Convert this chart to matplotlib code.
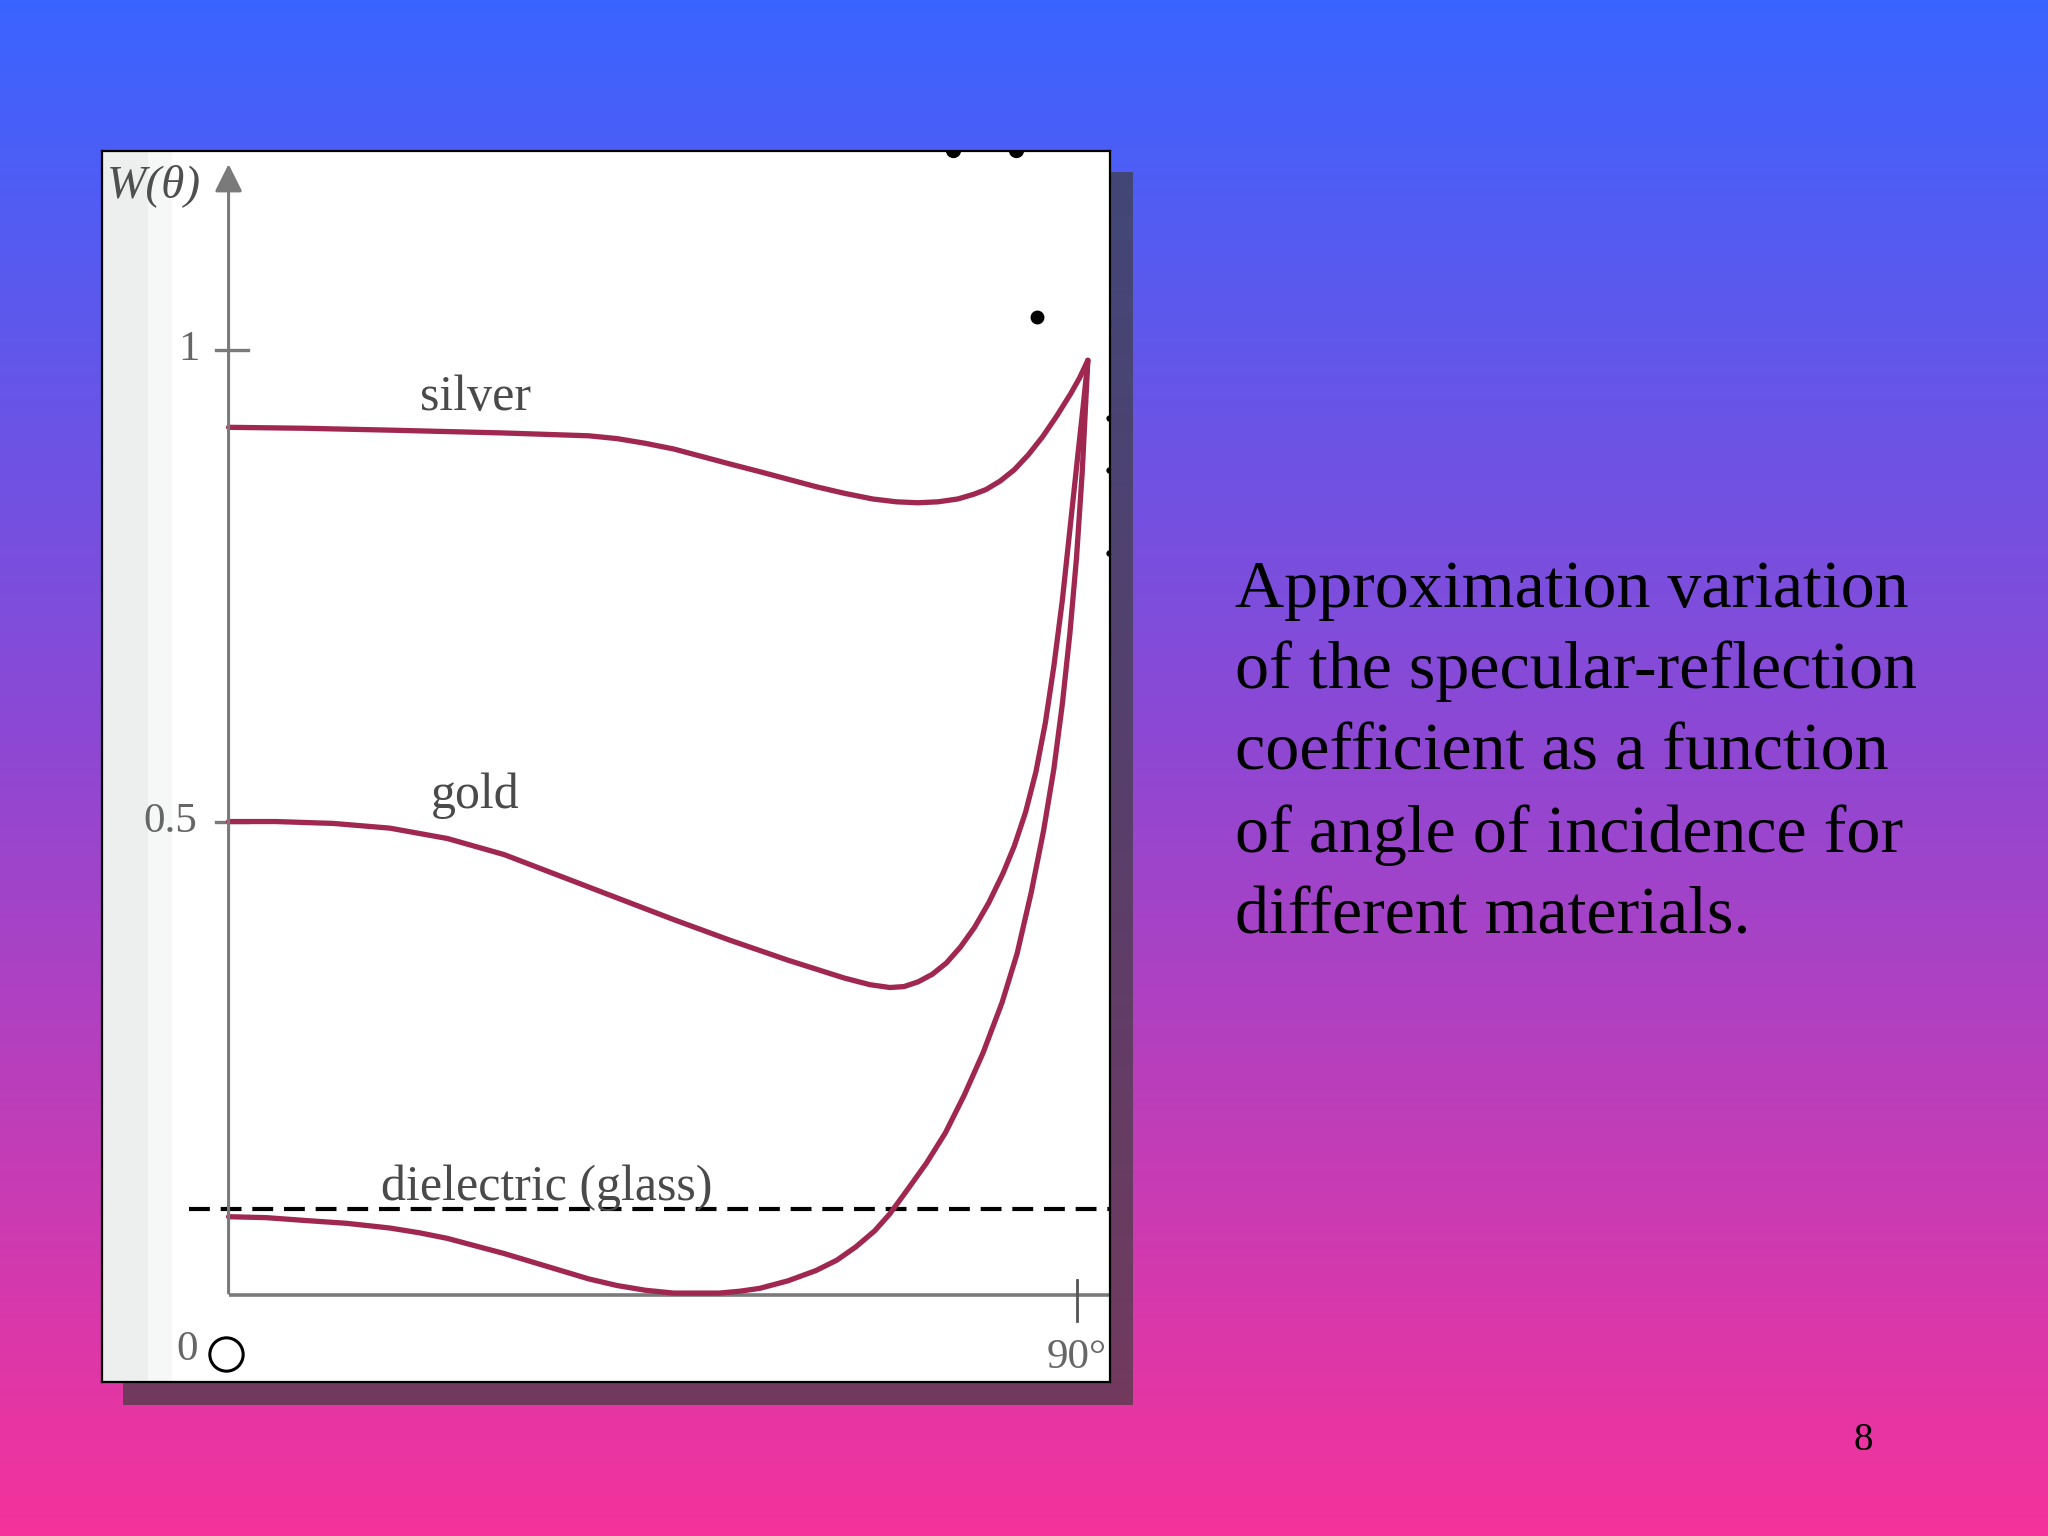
import numpy as np
import matplotlib
matplotlib.use("Agg")
from matplotlib import pyplot as plt
from matplotlib.colors import LinearSegmentedColormap
from matplotlib.patches import Rectangle

plt.rcParams['font.family'] = ['Liberation Serif', 'DejaVu Serif']

# angle of incidence (deg) and W(theta)
silver_x = [0, 8.0, 17.1, 29.2, 38.2, 41.2, 44.2, 47.2, 50.2, 53.2, 56.3, 59.3, 62.3, 65.3, 68.3,
            70.8, 73.1, 75.2, 77.3, 79.0, 80.3, 81.8, 83.3, 84.8, 86.3, 87.8, 89.3, 90.2, 91.1]
silver_y = [0.918, 0.917, 0.915, 0.912, 0.909, 0.906, 0.901, 0.895, 0.887, 0.879, 0.871, 0.863,
            0.855, 0.848, 0.842, 0.839, 0.838, 0.839, 0.842, 0.847, 0.852, 0.861, 0.873, 0.889,
            0.908, 0.930, 0.954, 0.970, 0.989]

gold_x = [0, 5.0, 11.1, 17.1, 23.2, 29.2, 35.2, 41.2, 47.2, 53.2, 59.3, 65.3, 68.0, 70.1, 71.6,
          73.1, 74.6, 76.1, 77.6, 79.1, 80.6, 82.1, 83.3, 84.5, 85.6, 86.6, 87.5, 88.4, 89.2,
          90.0, 90.6, 91.1]
gold_y = [0.500, 0.500, 0.498, 0.493, 0.482, 0.465, 0.442, 0.419, 0.396, 0.374, 0.353, 0.334,
          0.327, 0.324, 0.325, 0.330, 0.338, 0.350, 0.367, 0.388, 0.414, 0.445, 0.474, 0.510,
          0.553, 0.605, 0.665, 0.735, 0.810, 0.885, 0.940, 0.989]

glass_x = [0, 4.0, 8.1, 12.5, 17.1, 20.2, 23.2, 26.2, 29.2, 32.2, 35.2, 38.2, 41.2, 44.2, 47.2,
           49.6, 52.0, 54.2, 56.3, 59.3, 62.3, 64.5, 66.5, 68.5, 70.1, 72.0, 74.0, 76.0, 78.0,
           80.0, 82.0, 83.6, 85.1, 86.4, 87.5, 88.4, 89.2, 89.9, 90.5, 91.1]
glass_y = [0.081, 0.080, 0.077, 0.074, 0.069, 0.064, 0.058, 0.050, 0.042, 0.033, 0.024, 0.015,
           0.008, 0.003, 0.0, 0.0, 0.0, 0.002, 0.005, 0.013, 0.024, 0.035, 0.049, 0.066, 0.084,
           0.110, 0.138, 0.170, 0.210, 0.255, 0.308, 0.360, 0.425, 0.490, 0.556, 0.625, 0.700,
           0.780, 0.870, 0.989]

glass_level = 0.089
y_ticks = [1, 0.5]
y_tick_labels = ['1', '0.5']

caption = ["Approximation variation",
           "of the specular-reflection",
           "coefficient as a function",
           "of angle of incidence for",
           "different materials."]
page_no = "8"

fig = plt.figure(figsize=(20.48, 15.36), dpi=100)

# slide background gradient
bg = fig.add_axes([0, 0, 1, 1])
cmap = LinearSegmentedColormap.from_list('slide', ['#3a64ff', '#9147d2', '#f5329b'])
bg.imshow(np.linspace(0, 1, 256).reshape(-1, 1), aspect='auto', cmap=cmap,
          extent=[0, 1, 0, 1])
bg.set_xlim(0, 1)
bg.set_ylim(0, 1)
bg.axis('off')
# drop shadow of the picture
bg.add_patch(Rectangle((0.0600, 0.0851), 0.4930, 0.8027, facecolor='#3c3c3c',
                       alpha=0.68, edgecolor='none', transform=bg.transAxes))

# the scanned graph
ax = fig.add_axes([0.04975, 0.1003, 0.4923, 0.8011])
ax.set_facecolor('white')
ax.set_xlim(-13.43, 93.46)
ax.set_ylim(-0.0942, 1.2105)
ax.set_xticks([])
ax.set_yticks([])
for s in ax.spines.values():
    s.set_color('black')
    s.set_linewidth(1.6)
ax.axvspan(-13.43, -8.5, color='#edefef', lw=0)
ax.axvspan(-8.5, -6.0, color='#f6f7f7', lw=0)

axis_col = '#7a7a7a'
ax.plot([0, 93.46], [-0.002, -0.002], color=axis_col, lw=2.6, solid_capstyle='butt')
ax.annotate('', xy=(0, 1.2), xytext=(0, -0.003),
            arrowprops=dict(arrowstyle='-|>', color=axis_col, lw=2.2, mutation_scale=42))
for t in y_ticks:
    ax.plot([-1.38, 2.08], [t, t], color=axis_col, lw=2.4)
ax.plot([89.9, 89.9], [0.014, -0.030], color='#555555', lw=2.0)

tick_col = '#666666'
ax.text(-4.15, 1.0, y_tick_labels[0], fontsize=31, color=tick_col, ha='center', va='center')
ax.text(-6.2, 0.5, y_tick_labels[1], fontsize=31, color=tick_col, ha='center', va='center')
ax.text(-4.4, -0.06, '0', fontsize=31, color=tick_col, ha='center', va='center')
ax.text(89.9, -0.069, '90°', fontsize=31, color=tick_col, ha='center', va='center')
ax.text(-7.9, 1.174, 'W(θ)', fontsize=34, color='#4f4f4f', style='italic',
        ha='center', va='center')
ax.plot([-0.28], [-0.065], marker='o', ms=24, mfc='none', mec='black', mew=2.2)

ax.plot([-4.15, 93.46], [glass_level, glass_level], color='black', lw=3.0,
        dashes=(5.0, 2.6))

curve_col = '#a02850'
for xs, ys in [(silver_x, silver_y), (gold_x, gold_y), (glass_x, glass_y)]:
    ax.plot(xs, ys, color=curve_col, lw=3.8, solid_joinstyle='round',
            solid_capstyle='round')

lab_col = '#4a4a4a'
ax.text(26.2, 0.936, 'silver', fontsize=36, color=lab_col, ha='center', va='baseline')
ax.text(26.2, 0.514, 'gold', fontsize=36, color=lab_col, ha='center', va='baseline')
ax.text(33.7, 0.0986, 'dielectric (glass)', fontsize=36, color=lab_col,
        ha='center', va='baseline')

# specks from the scan
ax.plot([85.7], [1.035], 'o', color='black', ms=9)
ax.plot([76.8, 83.5], [1.212, 1.212], 'o', color='black', ms=10, clip_on=True)
ax.plot([93.3, 93.3, 93.3], [0.928, 0.873, 0.785], 'o', color='black', ms=3.5)

# caption text
baselines = [0.6046, 0.5519, 0.4987, 0.4455, 0.3924]
for line, yb in zip(caption, baselines):
    fig.text(0.6029, yb, line, fontsize=49, color='black', ha='left', va='baseline')
fig.text(0.910, 0.0560, page_no, fontsize=28, color='black', ha='center', va='baseline')

fig.savefig('out.png', dpi=100)
